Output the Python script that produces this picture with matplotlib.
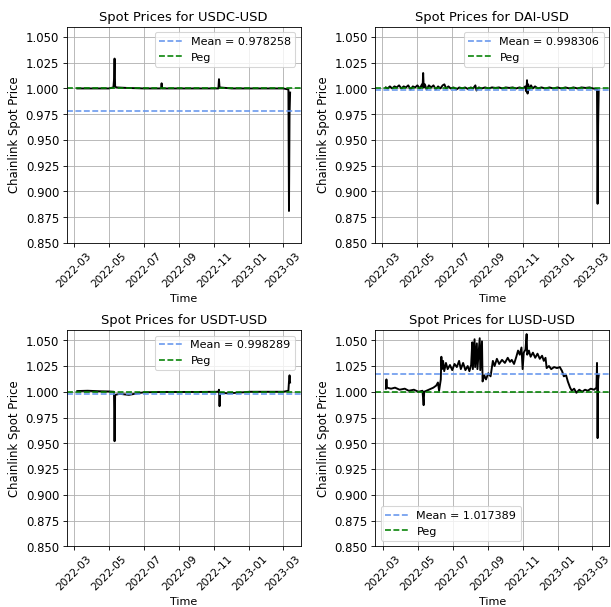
import pandas as pd
import matplotlib.pyplot as plt
from matplotlib.ticker import MultipleLocator, FormatStrFormatter

# values (approximate)
usdc_dates = ["2022-03-07", "2022-04-01", "2022-05-01", "2022-05-09", "2022-05-10", "2022-05-11",
              "2022-05-12", "2022-05-14", "2022-06-01", "2022-07-01", "2022-07-31", "2022-08-01",
              "2022-08-02", "2022-09-01", "2022-10-01", "2022-11-08", "2022-11-09", "2022-11-10",
              "2022-12-01", "2023-01-01", "2023-02-01", "2023-03-01", "2023-03-10", "2023-03-11",
              "2023-03-12", "2023-03-13"]
usdc_prices = [1.000, 1.000, 1.000, 1.001, 1.008, 1.029,
               1.002, 1.001, 1.0005, 1.000, 1.000, 1.005,
               1.000, 1.000, 1.000, 1.000, 1.009, 1.001,
               1.000, 1.000, 1.000, 1.000, 0.999, 0.881,
               0.975, 0.996]

dai_dates = ["2022-03-07", "2022-03-10", "2022-03-14", "2022-03-18", "2022-03-22", "2022-03-26",
             "2022-03-30", "2022-04-03", "2022-04-07", "2022-04-11", "2022-04-15", "2022-04-19",
             "2022-04-23", "2022-04-27", "2022-05-01", "2022-05-05", "2022-05-09", "2022-05-10",
             "2022-05-11", "2022-05-12", "2022-05-14", "2022-05-17", "2022-05-21", "2022-05-25",
             "2022-05-29", "2022-06-02", "2022-06-06", "2022-06-10", "2022-06-14", "2022-06-17",
             "2022-06-20", "2022-06-24", "2022-06-28", "2022-07-03", "2022-07-08", "2022-07-13",
             "2022-07-18", "2022-07-23", "2022-07-28", "2022-08-02", "2022-08-06", "2022-08-10",
             "2022-08-12", "2022-08-16", "2022-08-21", "2022-08-27", "2022-09-02", "2022-09-08",
             "2022-09-14", "2022-09-20", "2022-09-26", "2022-10-02", "2022-10-08", "2022-10-14",
             "2022-10-20", "2022-10-26", "2022-11-01", "2022-11-05", "2022-11-07", "2022-11-08",
             "2022-11-09", "2022-11-10", "2022-11-12", "2022-11-15", "2022-11-18", "2022-11-22",
             "2022-11-27", "2022-12-03", "2022-12-10", "2022-12-17", "2022-12-24", "2022-12-31",
             "2023-01-07", "2023-01-14", "2023-01-21", "2023-01-28", "2023-02-04", "2023-02-11",
             "2023-02-18", "2023-02-25", "2023-03-10", "2023-03-11", "2023-03-12", "2023-03-13"]
dai_prices = [1.001, 1.000, 1.002, 1.000, 1.002, 1.001,
              1.003, 1.000, 1.002, 1.001, 1.003, 0.999,
              1.002, 1.001, 1.003, 1.000, 1.004, 1.001,
              1.015, 1.001, 1.004, 0.999, 1.003, 1.001,
              1.003, 0.999, 1.002, 1.000, 1.003, 1.004,
              1.000, 1.002, 1.000, 1.001, 0.999, 1.001,
              1.000, 1.001, 0.9995, 1.001, 1.000, 1.003,
              0.998, 1.001, 1.000, 1.001, 1.000, 1.001,
              1.0005, 1.001, 1.000, 1.001, 1.0005, 1.001,
              1.000, 1.001, 1.000, 1.002, 0.997, 1.008,
              0.995, 1.004, 0.999, 1.003, 1.000, 1.002,
              1.000, 1.001, 1.000, 1.001, 1.000, 1.001,
              1.000, 1.001, 1.000, 1.001, 1.000, 1.001,
              1.0005, 1.001, 0.999, 0.888, 0.965, 0.998]

usdt_dates = ["2022-03-07", "2022-03-25", "2022-04-15", "2022-05-01", "2022-05-10", "2022-05-11",
              "2022-05-12", "2022-05-20", "2022-06-05", "2022-06-20", "2022-07-01", "2022-08-01",
              "2022-09-01", "2022-10-01", "2022-11-08", "2022-11-09", "2022-11-10", "2022-11-11",
              "2022-11-25", "2022-12-10", "2023-01-01", "2023-02-01", "2023-03-01", "2023-03-10",
              "2023-03-11", "2023-03-12", "2023-03-13"]
usdt_prices = [1.0007, 1.001, 1.0005, 1.0003, 1.000, 0.952,
               0.997, 0.998, 0.997, 0.9985, 0.9995, 0.9998,
               0.9998, 0.9998, 1.000, 1.002, 0.986, 0.999,
               0.9985, 0.999, 1.000, 1.000, 1.000, 1.001,
               1.010, 1.016, 1.009]

lusd_dates = ["2022-03-06", "2022-03-07", "2022-03-08", "2022-03-15", "2022-03-22", "2022-03-30",
              "2022-04-08", "2022-04-15", "2022-04-24", "2022-05-02", "2022-05-09", "2022-05-11",
              "2022-05-12", "2022-05-20", "2022-05-28", "2022-06-02", "2022-06-05", "2022-06-07",
              "2022-06-10", "2022-06-11", "2022-06-12", "2022-06-14", "2022-06-16", "2022-06-19",
              "2022-06-22", "2022-06-26", "2022-06-30", "2022-07-04", "2022-07-08", "2022-07-12",
              "2022-07-15", "2022-07-19", "2022-07-23", "2022-07-27", "2022-07-30", "2022-08-02",
              "2022-08-04", "2022-08-05", "2022-08-08", "2022-08-09", "2022-08-12", "2022-08-13",
              "2022-08-17", "2022-08-18", "2022-08-21", "2022-08-22", "2022-08-25", "2022-08-28",
              "2022-09-01", "2022-09-05", "2022-09-09", "2022-09-12", "2022-09-16", "2022-09-20",
              "2022-09-25", "2022-09-30", "2022-10-05", "2022-10-09", "2022-10-12", "2022-10-16",
              "2022-10-20", "2022-10-23", "2022-10-26", "2022-10-29", "2022-10-31", "2022-11-02",
              "2022-11-05", "2022-11-07", "2022-11-08", "2022-11-11", "2022-11-14", "2022-11-18",
              "2022-11-22", "2022-11-26", "2022-11-30", "2022-12-04", "2022-12-07", "2022-12-10",
              "2022-12-12", "2022-12-16", "2022-12-20", "2022-12-25", "2022-12-30", "2023-01-04",
              "2023-01-08", "2023-01-11", "2023-01-15", "2023-01-18", "2023-01-22", "2023-01-25",
              "2023-01-29", "2023-02-02", "2023-02-07", "2023-02-12", "2023-02-17", "2023-02-22",
              "2023-02-27", "2023-03-05", "2023-03-09", "2023-03-10", "2023-03-11", "2023-03-12",
              "2023-03-13"]
lusd_prices = [1.003, 1.012, 1.004, 1.003, 1.004, 1.002,
               1.003, 1.001, 1.002, 1.000, 1.001, 0.987,
               1.000, 1.002, 1.004, 1.006, 1.009, 1.001,
               1.012, 1.034, 1.022, 1.030, 1.020, 1.028,
               1.022, 1.026, 1.021, 1.027, 1.024, 1.030,
               1.022, 1.028, 1.021, 1.025, 1.020, 1.026,
               1.048, 1.022, 1.051, 1.024, 1.047, 1.022,
               1.052, 1.021, 1.049, 1.010, 1.016, 1.012,
               1.018, 1.015, 1.030, 1.025, 1.032, 1.027,
               1.031, 1.028, 1.033, 1.029, 1.031, 1.027,
               1.034, 1.040, 1.036, 1.043, 1.022, 1.038,
               1.041, 1.056, 1.036, 1.040, 1.034, 1.038,
               1.033, 1.037, 1.032, 1.035, 1.030, 1.033,
               1.023, 1.025, 1.022, 1.024, 1.023, 1.024,
               1.020, 1.015, 1.016, 1.010, 1.004, 1.001,
               1.003, 0.999, 1.002, 1.000, 1.002, 1.001,
               1.003, 1.002, 1.004, 1.028, 0.955, 1.012,
               1.016]

names = ["USDC-USD", "DAI-USD", "USDT-USD", "LUSD-USD"]
means = [0.978258, 0.998306, 0.998289, 1.017389]
peg = 1.0

all_dates = [usdc_dates, dai_dates, usdt_dates, lusd_dates]
all_prices = [usdc_prices, dai_prices, usdt_prices, lusd_prices]
legend_locs = ["upper right", "upper right", "upper right", "lower left"]

DPI = 76.4
fig, axes = plt.subplots(2, 2, figsize=(8, 7.95), dpi=DPI)

for ax, name, dates, prices, mean, loc in zip(axes.flat, names, all_dates, all_prices, means, legend_locs):
    ax.plot(pd.to_datetime(dates), prices, color="black", linewidth=1.8)
    ax.axhline(mean, color="cornflowerblue", linestyle="--", label=f"Mean = {mean:.6f}")
    ax.axhline(peg, color="green", linestyle="--", label="Peg")
    ax.set_title(f"Spot Prices for {name}", fontsize=12.3)
    ax.set_xlabel("Time", fontsize=10.5)
    ax.set_ylabel("Chainlink Spot Price", fontsize=11)
    ax.set_ylim(0.85, 1.06)
    ax.yaxis.set_major_locator(MultipleLocator(0.025))
    ax.yaxis.set_major_formatter(FormatStrFormatter("%.3f"))
    ax.tick_params(axis="x", labelrotation=45, labelsize=10)
    ax.tick_params(axis="y", labelsize=11)
    ax.grid(True)
    ax.legend(loc=loc, fontsize=10.5)

plt.subplots_adjust(left=0.109, right=0.997, top=0.9555, bottom=0.1, wspace=0.318, hspace=0.4025)
plt.savefig("out.png", dpi=DPI)
